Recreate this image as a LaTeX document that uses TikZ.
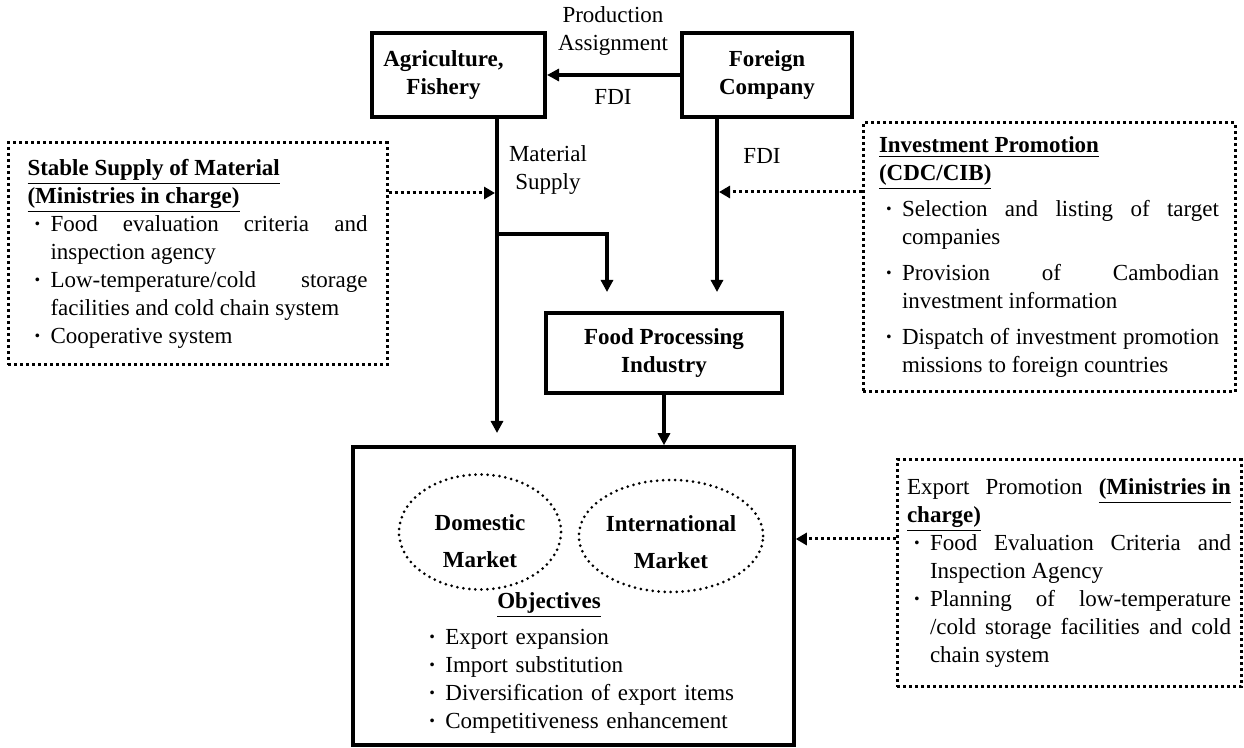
\documentclass[tikz,border=0pt]{standalone}
\usepackage{fontspec}
\setmainfont{Liberation Serif}
\usetikzlibrary{arrows.meta,shapes.geometric}

\hyphenpenalty=10000
\exhyphenpenalty=10000
\tolerance=9999
\hbadness=10000

\newcommand{\bodyfont}{\fontsize{11.5}{14}\selectfont}
\newcommand{\ulb}[1]{\underline{\textbf{#1}}}
\newlength{\bhang}\setlength{\bhang}{11.5pt}
\newcommand{\bitem}[1]{\par\hangindent=\bhang\hangafter=1\noindent\makebox[\bhang][l]{\hspace{3pt}\textbf{\textperiodcentered}}#1}

\begin{document}
\begin{tikzpicture}[x=0.5pt,y=-0.5pt,font=\bodyfont]
	\tikzstyle{Box} = [draw, line width=2pt, font=\bodyfont\bfseries, align=center, inner sep=0pt]
	\tikzstyle{Note} = [draw, line width=1.5pt, dash pattern=on 1.5pt off 1.5pt, inner sep=0pt, align=justify]
	\tikzstyle{Market} = [ellipse, draw, line width=1.5pt, line cap=round, dash pattern=on 0pt off 3pt, font=\fontsize{11.5}{18.5}\selectfont\bfseries, align=center, inner sep=0pt]
	\tikzstyle{Flow} = [line width=2pt, -{Triangle[length=6pt,width=6pt]}]
	\tikzstyle{DotFlow} = [line width=1.5pt, dash pattern=on 1.5pt off 1.5pt, -{Triangle[length=5.5pt,width=6pt]}]
	\useasboundingbox (0,0) rectangle (1244,748);
	% boxes
	\node (agri) at (458.5,75) [Box, minimum width=86.5pt, minimum height=42pt] {Agriculture,\hspace*{15pt}\\Fishery\hspace*{15pt}};
	\node (fc) at (767,75) [Box, minimum width=85pt, minimum height=42pt] {Foreign\\Company};
	\node (food) at (664,353) [Box, minimum width=118pt, minimum height=40pt] {Food Processing\\Industry};
	\node (mkt) at (573.5,596) [draw, line width=1.75pt, minimum width=220.5pt, minimum height=149pt] {};
	\node (dom) at (480,532) [Market, minimum width=81pt, minimum height=57.5pt] {\rule{0pt}{17.5pt}Domestic\\Market};
	\node (intl) at (671,536) [Market, minimum width=86pt, minimum height=56pt] {\rule{0pt}{14pt}International\\Market};
	\node (obj) at (549,605) {\ulb{Objectives}};
	\node (objl) at (422,675) [anchor=west, text width=180pt, align=left, inner sep=0pt] {\bitem{Export expansion}\bitem{Import substitution}\bitem{Diversification of export items}\bitem{Competitiveness enhancement}\par};
	% support boxes
	\node (supply) at (197.5,254) [Note, text width=170pt, minimum width=189.5pt, minimum height=111pt] {\ulb{Stable Supply of Material}\\
		\ulb{(Ministries in charge)}
		\bitem{Food evaluation criteria and\linebreak inspection agency}
		\bitem{Low-temperature/cold storage\linebreak facilities and cold chain system}
		\bitem{Cooperative system}\par};
	\node (invest) at (1049,257.5) [Note, text width=170pt, minimum width=186pt, minimum height=134.5pt, font=\bodyfont\setlength{\parskip}{4pt}] {\ulb{Investment Promotion}\\
		\ulb{(CDC/CIB)}
		\bitem{Selection and listing of target\linebreak companies}
		\bitem{Provision of Cambodian\linebreak investment information}
		\bitem{Dispatch of investment promotion\linebreak missions to foreign countries}\par};
	\node (export) at (1069,573.5) [Note, text width=162pt, minimum width=172pt, minimum height=113.5pt] {Export Promotion \ulb{(Ministries in}\linebreak\ulb{charge)}
		\bitem{Food Evaluation Criteria and\linebreak Inspection Agency}
		\bitem{Planning of low-temperature\linebreak /cold storage facilities and cold\linebreak chain system}\par};
	% labels
	\node (pa) at (613,31) [align=center] {Production\\Assignment};
	\node (fdi1) at (613,97) {FDI};
	\node (ms) at (548,170) [align=center] {Material\\Supply};
	\node (fdi2) at (762,156) {FDI};
	% connectors
	\coordinate (split) at (497,234);
	\coordinate (mend) at (497,433);
	\coordinate (bend) at (607,292);
	\coordinate (fend) at (717,292);
	\coordinate (sin) at (497,193);
	\coordinate (iin) at (717,192);
	\coordinate (ein) at (794,539);
	\draw [Flow] (fc) -- (agri);
	\draw [Flow] (agri.south -| mend) -- (mend);
	\draw [Flow] (split) -| (bend);
	\draw [Flow] (fc.south -| fend) -- (fend);
	\draw [Flow] (food) -- (food |- mkt.north);
	\draw [DotFlow, shorten >=1pt] (supply.east |- sin) -- (sin);
	\draw [DotFlow, shorten >=1pt] (invest.west |- iin) -- (iin);
	\draw [DotFlow] (export.west |- ein) -- (mkt.east |- ein);
\end{tikzpicture}
\end{document}
